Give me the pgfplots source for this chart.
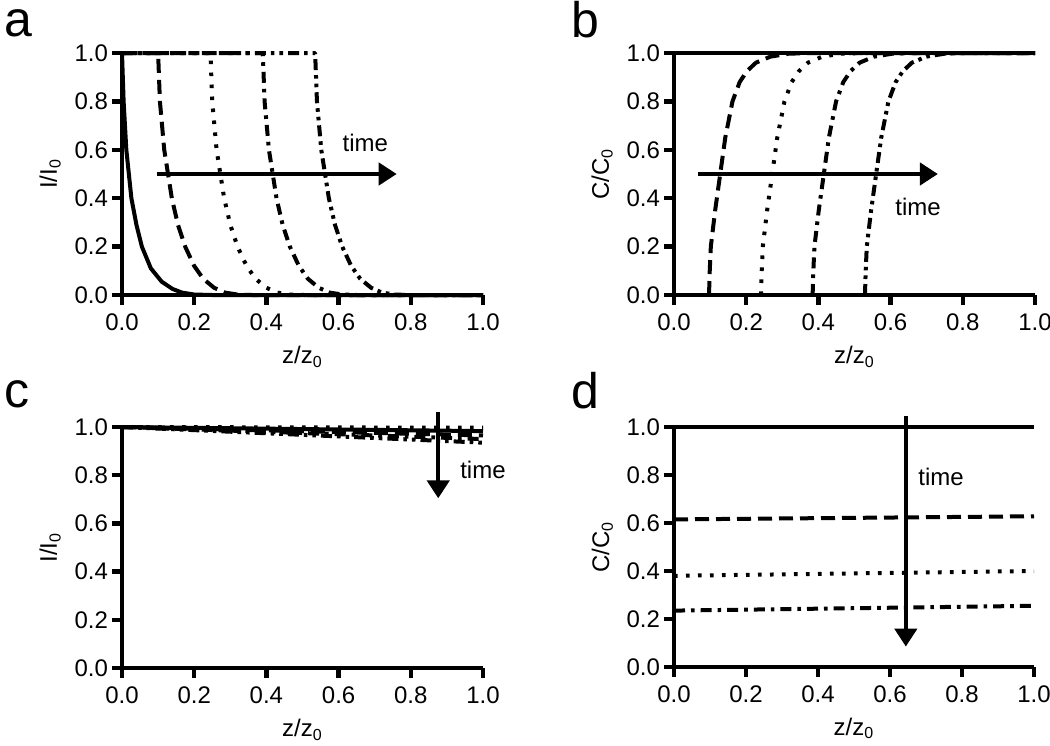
\documentclass[border=0pt]{standalone}
\usepackage{fontspec}
\setmainfont{Liberation Sans}
\usepackage{pgfplots}
\pgfplotsset{compat=1.18}
\usetikzlibrary{arrows.meta}

\newcommand{\tfont}{\fontsize{12}{14}\selectfont}
\newcommand{\lfont}{\fontsize{25}{28}\selectfont}
\tikzset{
  sdashed/.style={line width=2pt, dash pattern=on 7pt off 3.5pt},
  sdotted/.style={line width=2pt, dash pattern=on 1.8pt off 4.2pt},
  sdashdot/.style={line width=2pt, dash pattern=on 5.5pt off 3pt on 1.8pt off 3pt},
  sdashdotdot/.style={line width=2pt, dash pattern=on 5.5pt off 2.5pt on 1.8pt off 2.5pt on 1.8pt off 2.5pt},
  ssolid/.style={line width=2pt, solid},
  timearrow/.style={line width=2.2pt, -{Triangle[length=9pt,width=11pt]}},
}

\pgfplotsset{
  panel/.style={
    scale only axis, width=180.5pt, height=121pt,
    xmin=0, xmax=1, ymin=0, ymax=1,
    axis lines=left, axis line style={-, line width=2.2pt},
    xtick={0,0.2,0.4,0.6,0.8,1.0}, ytick={0,0.2,0.4,0.6,0.8,1.0},
    tick align=outside, major tick length=5pt,
    tick style={line width=2.2pt, black},
    xticklabel style={font=\tfont, yshift=-1pt},
    yticklabel style={font=\tfont, xshift=1.5pt},
    xlabel style={font=\tfont},
    ylabel style={font=\tfont},
    /pgf/number format/.cd, fixed, fixed zerofill, precision=1, assume math mode=true,
    /pgfplots/.cd,
    clip=false,
    xlabel={z/z\textsubscript{0}},
    xlabel style={at={(axis description cs:0.5,-0.256)}, anchor=center},
    ylabel style={at={(axis description cs:-0.199,0.5)}, anchor=center},
    every axis plot/.append style={line join=round},
  }
}

\begin{document}
\begin{tikzpicture}
\useasboundingbox (0,0) rectangle (525pt,-372.5pt);

% ---------- panel a ----------
\begin{axis}[panel, at={(61pt,-147.5pt)}, anchor=south west, ylabel={I/I\textsubscript{0}}]
\addplot[ssolid] coordinates {(0,1)(0.0045,0.8)(0.012,0.6)(0.026,0.4)(0.04,0.29)(0.055,0.2)(0.08,0.11)(0.11,0.055)(0.14,0.025)(0.166,0.01)(0.2,0.002)(0.25,0)(1,0)};
\addplot[sdashed] coordinates {(0,1)(0.1,1)(0.105,0.8)(0.117,0.6)(0.138,0.4)(0.155,0.29)(0.175,0.2)(0.2,0.12)(0.225,0.067)(0.255,0.03)(0.285,0.01)(0.32,0.002)(0.36,0)(1,0)};
\addplot[sdotted] coordinates {(0,1)(0.245,1)(0.25,0.8)(0.262,0.6)(0.283,0.4)(0.3,0.29)(0.32,0.2)(0.345,0.12)(0.37,0.067)(0.4,0.03)(0.43,0.01)(0.465,0.002)(0.505,0)(1,0)};
\addplot[sdashdot] coordinates {(0,1)(0.39,1)(0.395,0.8)(0.407,0.6)(0.428,0.4)(0.445,0.29)(0.465,0.2)(0.49,0.12)(0.515,0.067)(0.545,0.03)(0.575,0.01)(0.61,0.002)(0.65,0)(1,0)};
\addplot[sdashdotdot] coordinates {(0,1)(0.535,1)(0.54,0.8)(0.552,0.6)(0.573,0.4)(0.59,0.29)(0.61,0.2)(0.635,0.12)(0.66,0.067)(0.69,0.03)(0.72,0.01)(0.755,0.002)(0.795,0)(1,0)};
\draw[timearrow] (axis cs:0.096,0.5) -- (axis cs:0.761,0.5);
\node[anchor=west, inner sep=0pt, font=\tfont] at (axis cs:0.61,0.628) {time};
\end{axis}

% ---------- panel b ----------
\begin{axis}[panel, at={(337pt,-147.5pt)}, anchor=south west, ylabel={C/C\textsubscript{0}}]
\addplot[ssolid] coordinates {(0,1)(1,1)};
\addplot[sdashed] coordinates {(0.097,0)(0.099,0.1)(0.102,0.2)(0.114,0.35)(0.128,0.5)(0.142,0.65)(0.162,0.8)(0.182,0.88)(0.202,0.925)(0.227,0.96)(0.267,0.985)(0.317,0.997)(0.377,1)(1,1)};
\addplot[sdotted] coordinates {(0.241,0)(0.243,0.1)(0.246,0.2)(0.258,0.35)(0.272,0.5)(0.286,0.65)(0.306,0.8)(0.326,0.88)(0.346,0.925)(0.371,0.96)(0.411,0.985)(0.461,0.997)(0.521,1)(1,1)};
\addplot[sdashdot] coordinates {(0.384,0)(0.386,0.1)(0.389,0.2)(0.401,0.35)(0.415,0.5)(0.429,0.65)(0.449,0.8)(0.469,0.88)(0.489,0.925)(0.514,0.96)(0.554,0.985)(0.604,0.997)(0.664,1)(1,1)};
\addplot[sdashdotdot] coordinates {(0.529,0)(0.531,0.1)(0.534,0.2)(0.546,0.35)(0.560,0.5)(0.574,0.65)(0.594,0.8)(0.614,0.88)(0.634,0.925)(0.659,0.96)(0.699,0.985)(0.749,0.997)(0.809,1)(1,1)};
\draw[timearrow] (axis cs:0.067,0.5) -- (axis cs:0.731,0.5);
\node[anchor=west, inner sep=0pt, font=\tfont] at (axis cs:0.612,0.364) {time};
\end{axis}

% ---------- panel c ----------
\begin{axis}[panel, height=120.5pt, at={(61pt,-334pt)}, anchor=south west, ylabel={I/I\textsubscript{0}}]
\addplot[ssolid] coordinates {(0,1)(1,0.983)};
\addplot[sdotted] coordinates {(0,1)(1,0.997)};
\addplot[sdashed] coordinates {(0,1)(1,0.965)};
\addplot[sdashdot] coordinates {(0,1)(1,0.95)};
\addplot[sdashdotdot] coordinates {(0,1)(1,0.935)};
\draw[timearrow] (axis cs:0.876,1.064) -- (axis cs:0.876,0.704);
\node[anchor=west, inner sep=0pt, font=\tfont] at (axis cs:0.936,0.82) {time};
\end{axis}

% ---------- panel d ----------
\begin{axis}[panel, width=180pt, height=120pt, at={(337pt,-333.5pt)}, anchor=south west, ylabel={C/C\textsubscript{0}}]
\addplot[ssolid] coordinates {(0,1)(1,1)};
\addplot[sdashed] coordinates {(0,0.615)(1,0.628)};
\addplot[sdotted] coordinates {(0,0.38)(1,0.40)};
\addplot[sdashdot] coordinates {(0,0.235)(1,0.255)};
\draw[timearrow] (axis cs:0.644,1.046) -- (axis cs:0.644,0.085);
\node[anchor=west, inner sep=0pt, font=\tfont] at (axis cs:0.678,0.79) {time};
\end{axis}

% panel letters
\node[anchor=base west, inner sep=0pt, font=\lfont] at (2pt,-18pt) {a};
\node[anchor=base west, inner sep=0pt, font=\lfont] at (285.5pt,-18.5pt) {b};
\node[anchor=base west, inner sep=0pt, font=\lfont] at (2pt,-203.5pt) {c};
\node[anchor=base west, inner sep=0pt, font=\lfont] at (285.5pt,-204pt) {d};
\end{tikzpicture}
\end{document}
